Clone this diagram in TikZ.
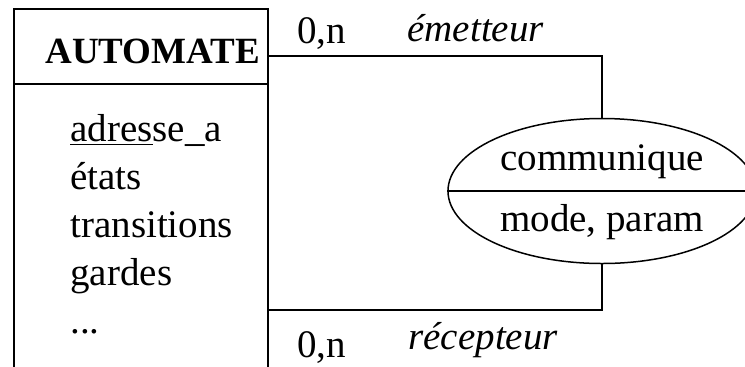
\documentclass[tikz,border=0pt]{standalone}
\usepackage{fontspec}
\setmainfont{Liberation Serif}
\usetikzlibrary{shapes.geometric}

\begin{document}
\begin{tikzpicture}[
  x=0.5pt, y=-0.5pt,
  font=\fontsize{19.5pt}{23pt}\selectfont,
  trait/.style={line width=0.75pt},
  entite/.style={draw, trait, inner sep=0pt, minimum width=127pt, minimum height=185.5pt},
  assoc/.style={draw, trait, ellipse, inner sep=0pt, minimum width=154pt, minimum height=72.5pt},
  attr/.style={anchor=base west, inner sep=0pt},
  card/.style={anchor=base west, inner sep=0pt},
  role/.style={anchor=base west, inner sep=0pt, font=\fontsize{19.5pt}{23pt}\selectfont\itshape}
]
\useasboundingbox (0,0) rectangle (745,366);
\clip (0,0) rectangle (745,366);

% ---------------- entity ----------------
\node[entite] (auto) at (141,194.5) {};
\node[attr, font=\fontsize{18.5pt}{22pt}\selectfont\bfseries] (titre) at (45,63) {AUTOMATE};
\draw[trait] (auto.west |- 0,84) -- (auto.east |- 0,84);

\node[attr] (a1) at (70,141) {\underline{adres}se\_a};
\node[attr] (a2) at (70,189) {états};
\node[attr] (a3) at (70,237) {transitions};
\node[attr] (a4) at (70,285) {gardes};
\node[attr] (a5) at (70,333) {...};

% ---------------- relationship ----------------
\node[assoc] (rel) at (602,191) {};
\draw[trait] (rel.west) -- (rel.east);
\node[inner sep=0pt] (nom) at (602,162) {communique};
\node[inner sep=0pt] (prop) at (602,222) {mode, param};

% ---------------- links ----------------
\coordinate (haut) at (602,56);
\coordinate (bas) at (602,310);
\draw[trait] (auto.east |- haut) -- (haut) -- (rel.north);
\draw[trait] (auto.east |- bas) -- (bas) -- (rel.south);

\node[card] (c1) at (297,43) {0,n};
\node[role] (r1) at (407,41) {émetteur};
\node[card] (c2) at (297,357) {0,n};
\node[role] (r2) at (408,349) {récepteur};

\end{tikzpicture}
\end{document}
